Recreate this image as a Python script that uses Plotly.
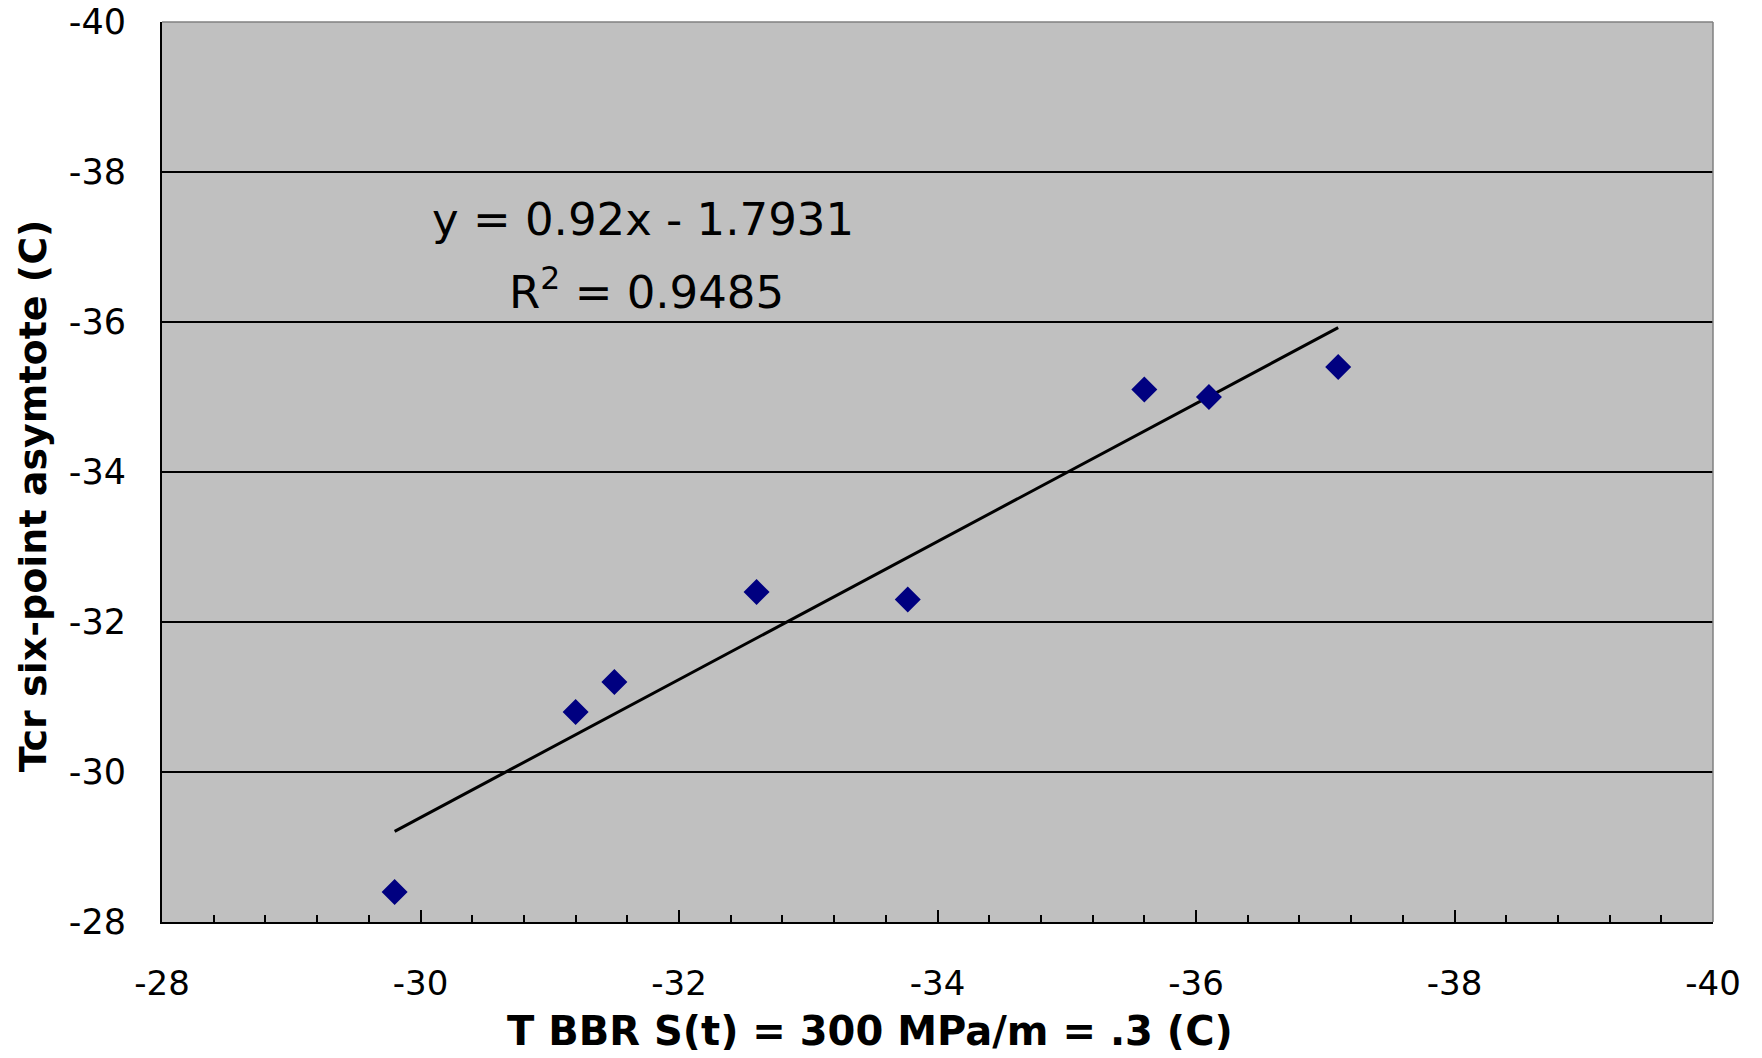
import plotly.graph_objects as go

# Data
t_bbr = [-29.8, -31.2, -31.5, -32.6, -33.77, -35.6, -36.1, -37.1]
tcr_asym = [-28.4, -30.8, -31.2, -32.4, -32.3, -35.1, -35.0, -35.4]

# Linear trendline as shown on the chart
slope = 0.92
intercept = -1.7931
eq_text = "y = 0.92x - 1.7931"
r2_text = "R<sup>2</sup> = 0.9485"

# Axis ticks (labels use a plain hyphen as in the reference)
x_tickvals = [-28, -30, -32, -34, -36, -38, -40]
x_ticktext = ["-28", "-30", "-32", "-34", "-36", "-38", "-40"]
y_tickvals = [-28, -30, -32, -34, -36, -38, -40]
y_ticktext = ["-28", "-30", "-32", "-34", "-36", "-38", "-40"]

x_title = "T BBR S(t) = 300 MPa/m = .3 (C)"
y_title = "Tcr six-point asymtote (C)"

trend_x = [min(t_bbr), max(t_bbr)]
trend_y = [slope * v + intercept for v in trend_x]

FONT = "DejaVu Sans"

fig = go.Figure()
fig.add_trace(go.Scatter(
    x=trend_x, y=trend_y, mode="lines",
    line=dict(color="black", width=3), showlegend=False, hoverinfo="skip"))
fig.add_trace(go.Scatter(
    x=t_bbr, y=tcr_asym, mode="markers",
    marker=dict(symbol="diamond", size=20, color="#000080", line=dict(width=0)),
    showlegend=False))

fig.update_layout(
    width=1746, height=1042, autosize=False,
    margin=dict(l=154, r=41, t=14, b=128, pad=0),
    paper_bgcolor="white", plot_bgcolor="#C0C0C0",
    font=dict(family=FONT, color="black", size=33),
    xaxis=dict(
        range=[-28, -40], tickmode="array", tickvals=x_tickvals, ticktext=x_ticktext,
        ticks="inside", ticklen=12, tickwidth=2, tickcolor="black",
        minor=dict(ticks="inside", ticklen=7, tickwidth=1.5, tickcolor="black",
                   tickmode="linear", dtick=0.4, tick0=-28, showgrid=False),
        showgrid=False, zeroline=False, automargin=False,
        showline=True, linecolor="black", linewidth=2,
        tickfont=dict(family=FONT, size=34, color="black"),
        ticklabelstandoff=30, ticklabeloverflow="allow",
    ),
    yaxis=dict(
        range=[-28, -40], tickmode="array", tickvals=y_tickvals, ticktext=y_ticktext,
        ticks="inside", ticklen=12, tickwidth=2, tickcolor="black",
        showgrid=True, gridcolor="black", gridwidth=1.5,
        zeroline=False, automargin=False,
        showline=True, linecolor="black", linewidth=2,
        tickfont=dict(family=FONT, size=35, color="black"),
        ticklabelstandoff=27, ticklabeloverflow="allow",
    ),
    shapes=[
        dict(type="line", xref="paper", yref="paper", x0=0, x1=1, y0=1, y1=1,
             line=dict(color="#808080", width=1.5), layer="above"),
        dict(type="line", xref="paper", yref="paper", x0=1, x1=1, y0=0, y1=1,
             line=dict(color="#808080", width=1.5), layer="above"),
    ],
    annotations=[
        dict(text=eq_text, x=-31.72, y=-37.37, xref="x", yref="y",
             showarrow=False, xanchor="center", yanchor="middle",
             font=dict(family=FONT, size=45, color="black")),
        dict(text=r2_text, x=-31.75, y=-36.43, xref="x", yref="y",
             showarrow=False, xanchor="center", yanchor="middle",
             font=dict(family=FONT, size=45, color="black")),
        dict(text="<b>" + x_title + "</b>", x=0.4565, y=-0.121,
             xref="paper", yref="paper", showarrow=False,
             xanchor="center", yanchor="middle",
             font=dict(family=FONT, size=40, color="black")),
        dict(text="<b>" + y_title + "</b>", x=-0.0826, y=0.474,
             xref="paper", yref="paper", showarrow=False, textangle=-90,
             xanchor="center", yanchor="middle",
             font=dict(family=FONT, size=38, color="black")),
    ],
)

fig.write_html("out.html")
